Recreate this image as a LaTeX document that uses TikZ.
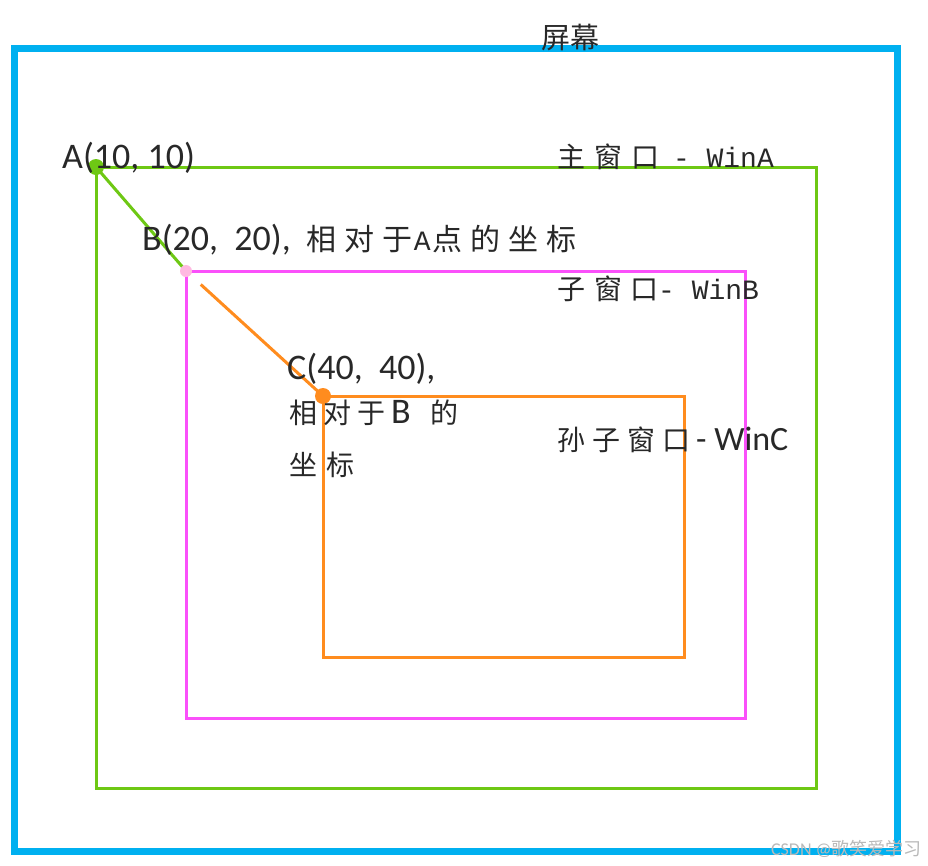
\documentclass[tikz,border=0pt]{standalone}
\usepackage{fontspec}
\setmainfont{Carlito}
\newfontfamily\cjk{Noto Sans CJK SC}
\newfontfamily\mono{Liberation Mono}
\definecolor{scr}{RGB}{0,176,240}
\definecolor{wa}{RGB}{110,200,20}
\definecolor{wb}{RGB}{250,80,250}
\definecolor{wc}{RGB}{255,140,30}
\definecolor{bpt}{RGB}{255,185,225}
\definecolor{txt}{RGB}{40,40,40}
\newcommand{\cj}[1]{{\cjk\fontsize{28}{30}\selectfont #1}}
\newcommand{\mn}[1]{{\mono\fontsize{28}{30}\selectfont #1}}
\begin{document}
\begin{tikzpicture}[x=1pt,y=-1pt,
  lbl/.style={anchor=west,inner sep=0pt,text=txt,font=\fontsize{36}{40}\selectfont},
  dotmark/.style={circle,inner sep=0pt,minimum size=16pt}]
\useasboundingbox (0,0) rectangle (928,865);
\fill[white] (0,0) rectangle (928,865);
% rectangles
\draw[scr,line width=7pt] (14,48) rectangle (897,851);
\draw[wa,line width=3pt] (96,167) rectangle (816,788);
\draw[wb,line width=3pt] (186,271) rectangle (745,718);
\draw[wc,line width=3pt] (323,396) rectangle (684,657);
% points
\coordinate (A) at (96,167);
\coordinate (B) at (186,271);
\coordinate (C) at (323,396);
\draw[wa,line width=3pt,shorten >=3pt] (A) -- (B);
\draw[wc,line width=3pt,shorten <=20pt] (B) -- (C);
\node[dotmark,fill=wa] (Ad) at (A) {};
\node[dotmark,fill=bpt,minimum size=12pt] (Bd) at (B) {};
\node[dotmark,fill=wc] (Cd) at (C) {};
% labels
\node[lbl,anchor=center] (scrlbl) at (570,38) {{\cjk\fontsize{29}{30}\selectfont 屏幕}};
\node[lbl] (Alb) at (62,158) {A(10, 10)};
\node[lbl] (Blb) at (142,240) {B(20,\ \ 20),\hspace{16pt}{\cjk\fontsize{30}{30}\selectfont 相\hspace{8pt}对\hspace{8pt}于}\hspace{1pt}\mn{A}\hspace{2pt}{\cjk\fontsize{30}{30}\selectfont 点\hspace{8pt}的\hspace{8pt}坐\hspace{8pt}标}};
\node[lbl] (WA) at (557,157) {\cj{主\hspace{9pt}窗\hspace{9pt}口}\hspace{-3pt}\mn{ - WinA}};
\node[lbl] (WB) at (557,289) {\cj{子\hspace{9pt}窗\hspace{8pt}口}\mn{- WinB}};
\node[lbl] (WC) at (557,440) {\cj{孙\hspace{7pt}子\hspace{7pt}窗\hspace{7pt}口}\hspace{6pt}{\fontsize{34}{36}\selectfont - WinC}};
\node[lbl] (Clb) at (287,369) {C(40,\ \ 40),};
\node[lbl] (Cl2) at (289,413) {\cj{相\hspace{6pt}对\hspace{6pt}于}\hspace{6pt}B\hspace{20pt}\cj{的}};
\node[lbl] (Cl3) at (289,465) {\cj{坐\hspace{9pt}标}};
\node[anchor=east,inner sep=0pt,text=gray!55,font=\fontsize{18}{20}\selectfont] (wm) at (922,849) {CSDN @{\cjk 歌笑爱学习}};
\end{tikzpicture}
\end{document}
